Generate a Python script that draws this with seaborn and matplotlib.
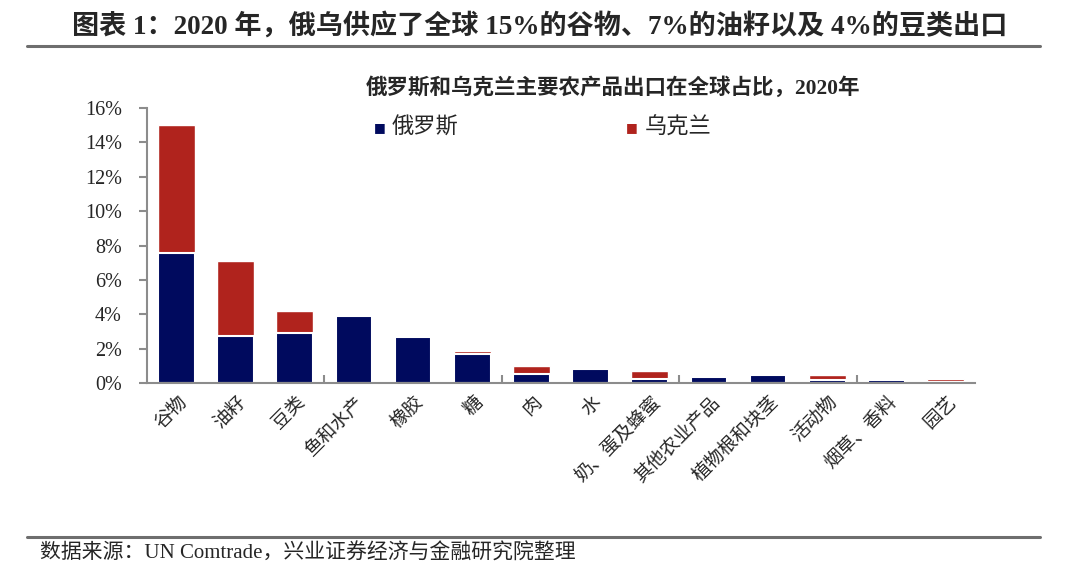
import matplotlib
matplotlib.use("Agg")
import matplotlib.pyplot as plt
import seaborn as sns
import pandas as pd
import numpy as np

categories = ["谷物", "油籽", "豆类", "鱼和水产", "橡胶", "糖", "肉", "水",
              "奶、蛋及蜂蜜", "其他农业产品", "植物根和块茎", "活动物", "烟草、香料", "园艺"]
russia = [7.6, 2.75, 2.9, 3.9, 2.68, 1.7, 0.52, 0.84, 0.27, 0.38, 0.5, 0.2, 0.17, 0.08]
ukraine = [7.4, 4.35, 1.3, 0.0, 0.0, 0.16, 0.5, 0.0, 0.45, 0.12, 0.0, 0.3, 0.0, 0.15]
yticks = [0, 2, 4, 6, 8, 10, 12, 14, 16]

NAVY = "#000A5E"
RED = "#B0231D"
GRAY = "#8C8C8C"

sns.set_theme(style="white")
plt.rcParams["font.family"] = ["Liberation Serif", "Noto Sans CJK SC"]

df = pd.DataFrame({"cat": categories, "russia": russia,
                   "total": np.array(russia) + np.array(ukraine)})

fig = plt.figure(figsize=(10.8, 5.78), dpi=100)
ax = fig.add_axes([0.136, 0.337, 0.767, 0.476])

sns.barplot(data=df, x="cat", y="total", color=RED, width=0.62, saturation=1,
            edgecolor="white", linewidth=1.0, ax=ax)
sns.barplot(data=df, x="cat", y="russia", color=NAVY, width=0.62, saturation=1,
            edgecolor="white", linewidth=1.5, ax=ax)

ax.set_ylim(0, 16)
ax.set_xlim(-0.5, len(categories) - 0.5)
ax.set_yticks(yticks)
ax.set_yticklabels([f"{v}%" for v in yticks], fontsize=14.5,
                   family=["Liberation Serif"])
ax.set_xlabel("")
ax.set_ylabel("")

# x ticks: labels at categories, tick marks every 3 categories
ax.set_xticks(range(len(categories)))
ax.set_xticklabels(categories, rotation=45, ha="right", rotation_mode="anchor",
                   fontsize=13.5, family=["Noto Sans CJK SC"])
ax.tick_params(axis="x", which="major", bottom=True, length=0, pad=6)
ax.set_xticks([2.5, 5.5, 8.5, 11.5], minor=True)
ax.tick_params(axis="x", which="minor", bottom=True, length=6, width=1.5,
               color=GRAY, direction="in")
ax.tick_params(axis="y", which="major", left=True, length=6, width=1.5,
               color=GRAY, direction="out", pad=12)

for s in ["top", "right"]:
    ax.spines[s].set_visible(False)
for s in ["left", "bottom"]:
    ax.spines[s].set_color(GRAY)
    ax.spines[s].set_linewidth(1.5)

# header / footer
fig.text(0.5, 0.955, "图表 1：2020 年，俄乌供应了全球 15%的谷物、7%的油籽以及 4%的豆类出口",
         ha="center", va="center", fontsize=19.5, fontweight="bold")
fig.add_artist(plt.Line2D([0.025, 0.963], [0.921, 0.921], color="#6E6E6E", lw=2.2,
                          transform=fig.transFigure))
fig.text(0.568, 0.848, "俄罗斯和乌克兰主要农产品出口在全球占比，2020年",
         ha="center", va="center", fontsize=15.5, fontweight="bold")

# legend
fig.text(0.352, 0.780, "■", color=NAVY, ha="center", va="center", fontsize=9,
         family=["DejaVu Sans"])
fig.text(0.363, 0.780, "俄罗斯", ha="left", va="center", fontsize=16,
         family=["Noto Sans CJK SC"])
fig.text(0.585, 0.780, "■", color=RED, ha="center", va="center", fontsize=9,
         family=["DejaVu Sans"])
fig.text(0.597, 0.780, "乌克兰", ha="left", va="center", fontsize=16,
         family=["Noto Sans CJK SC"])

fig.add_artist(plt.Line2D([0.025, 0.963], [0.071, 0.071], color="#6E6E6E", lw=2.2,
                          transform=fig.transFigure))
fig.text(0.037, 0.043, "数据来源：UN Comtrade，兴业证券经济与金融研究院整理",
         ha="left", va="center", fontsize=15)

fig.savefig("out.png", dpi=100)
